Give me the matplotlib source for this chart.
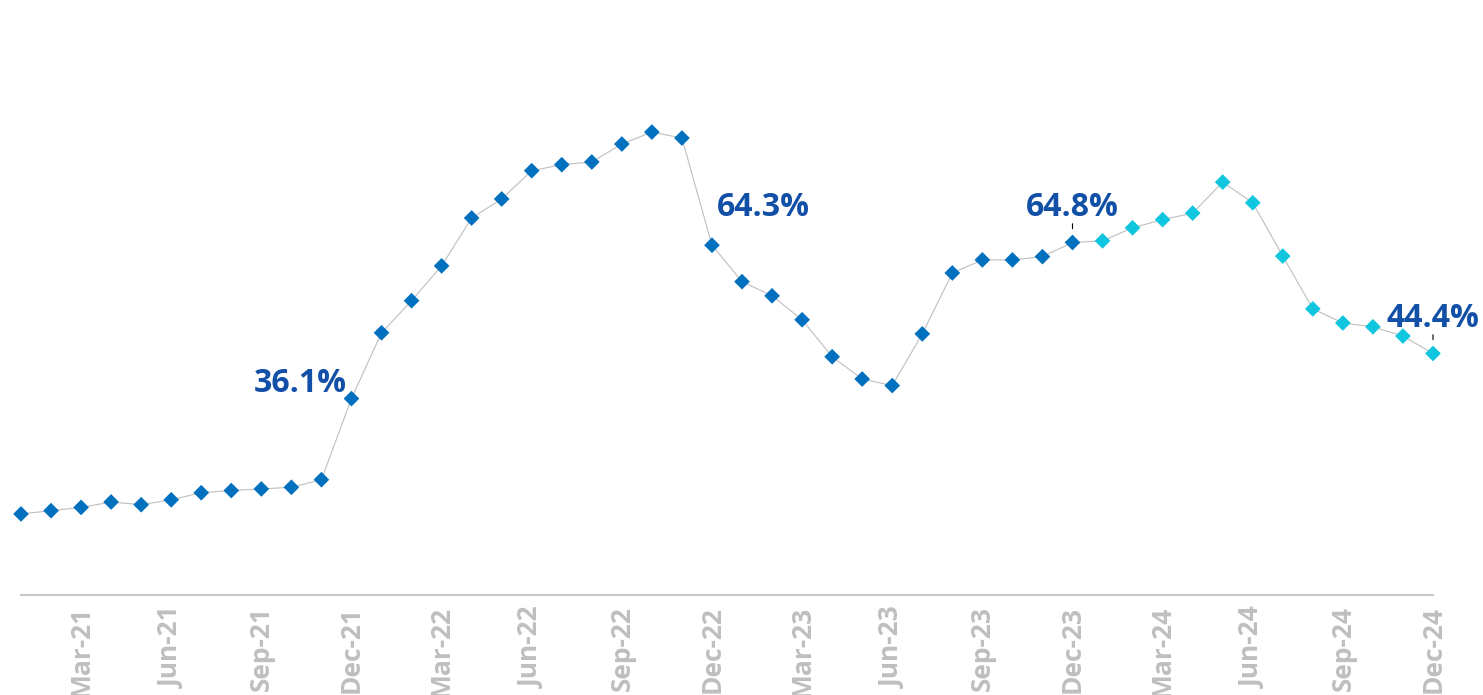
import numpy as np
import matplotlib.pyplot as plt

plt.rcParams['font.family'] = ['Open Sans', 'DejaVu Sans']

# meses ene-21 .. dic-24
meses = ['Jan', 'Feb', 'Mar', 'Apr', 'May', 'Jun',
         'Jul', 'Aug', 'Sep', 'Oct', 'Nov', 'Dec']
anios = ['21', '22', '23', '24']
etiquetas = [m + '-' + a for a in anios for m in meses]

valores_21 = [14.9, 15.5, 16.1, 17.1, 16.6, 17.5, 18.8, 19.2, 19.5, 19.8, 21.2, 36.1]
valores_22 = [48.2, 54.1, 60.5, 69.3, 72.8, 78.0, 79.1, 79.6, 82.9, 85.1, 84.0, 64.3]
valores_23 = [57.6, 55.0, 50.6, 43.8, 39.7, 38.5, 48.0, 59.2, 61.6, 61.6, 62.2, 64.8]
valores_24 = [65.1, 67.5, 69.0, 70.2, 75.9, 72.1, 62.3, 52.6, 50.0, 49.3, 47.6, 44.4]
valores = valores_21 + valores_22 + valores_23 + valores_24

# puntos con etiqueta: (indice, texto, ha, dx, dy, guia)
anotaciones = [(11, '36.1%', 'right', -3.5, 5, False),
               (23, '64.3%', 'left', 3.5, 21, False),
               (35, '64.8%', 'center', 0, 19, True),
               (47, '44.4%', 'center', 0, 19, True)]

azul = '#0070BF'
cian = '#10C6DE'
#%%----------------------------------------
fig = plt.figure(figsize=(14.83, 6.95), dpi=100)
ax = fig.add_axes([21/1483, 100/695, 1412/1483, 544/695])

x = np.arange(len(valores))
ax.plot(x, valores, '-', color='#BFBFBF', lw=0.8, zorder=1)
colores = [azul]*36 + [cian]*12
ax.scatter(x, valores, marker='D', s=64, c=colores, linewidths=0,
           zorder=2, clip_on=False)

for i, txt, ha, dx, dy, guia in anotaciones:
    ax.annotate(txt, (x[i], valores[i]), xytext=(dx, dy),
                textcoords='offset points', ha=ha, va='baseline',
                fontsize=23, fontweight='bold', color='#1150A6')
    if guia:
        ax.annotate('', xy=(x[i], valores[i]), xytext=(0, 13.5),
                    textcoords='offset points',
                    arrowprops=dict(arrowstyle='-', color='black', lw=0.8,
                                    shrinkA=0, shrinkB=9.9))

ax.set_xlim(0, 47)
ax.set_ylim(0, 100)
ticks = x[2::3]
ax.set_xticks(ticks)
ax.set_xticklabels([etiquetas[t] for t in ticks], rotation=90,
                   fontsize=19, fontweight='bold', color='#BFBFBF', va='top')
ax.tick_params(axis='x', length=0, pad=8)
ax.set_yticks([])
for lado in ['top', 'right', 'left']:
    ax.spines[lado].set_visible(False)
ax.spines['bottom'].set_color('#C8C8C8')
ax.spines['bottom'].set_linewidth(1.5)

fig.savefig('out.png', dpi=100)
